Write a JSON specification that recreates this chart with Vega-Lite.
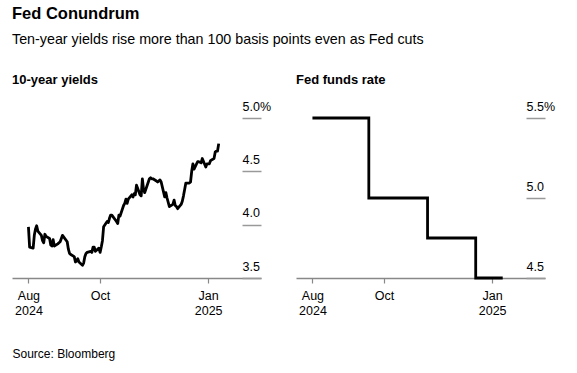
{
  "$schema": "https://vega.github.io/schema/vega-lite/v6.json",
  "padding": {"left": 12, "top": 6, "right": 10, "bottom": 5},
  "autosize": {"type": "pad"},
  "background": "white",
  "bounds": "flush",
  "spacing": 35,
  "title": {
    "text": "Fed Conundrum",
    "subtitle": "Ten-year yields rise more than 100 basis points even as Fed cuts",
    "anchor": "start",
    "font": "Liberation Sans",
    "fontSize": 16.5,
    "fontWeight": "bold",
    "color": "#000",
    "subtitleFont": "Liberation Sans",
    "subtitleFontSize": 14.3,
    "subtitleColor": "#000",
    "subtitlePadding": 10,
    "offset": 27
  },
  "config": {
    "font": "Liberation Sans",
    "view": {"stroke": null},
    "axis": {
      "labelFont": "Liberation Sans",
      "labelColor": "#000",
      "labelFontSize": 12.5,
      "grid": false
    }
  },
  "hconcat": [
    {
      "width": 249,
      "height": 160,
      "title": {"text": "10-year yields", "anchor": "start", "fontSize": 13, "fontWeight": "bold", "color": "#000", "baseline": "alphabetic", "offset": 3},
      "data": {"values": [
        {"d": "2024-08-01", "v": 3.98}, {"d": "2024-08-02", "v": 3.79}, {"d": "2024-08-05", "v": 3.78}, {"d": "2024-08-06", "v": 3.90},
        {"d": "2024-08-07", "v": 3.96}, {"d": "2024-08-08", "v": 3.99}, {"d": "2024-08-09", "v": 3.94}, {"d": "2024-08-12", "v": 3.90},
        {"d": "2024-08-13", "v": 3.85}, {"d": "2024-08-14", "v": 3.83}, {"d": "2024-08-15", "v": 3.91}, {"d": "2024-08-16", "v": 3.89},
        {"d": "2024-08-19", "v": 3.87}, {"d": "2024-08-20", "v": 3.81}, {"d": "2024-08-21", "v": 3.80}, {"d": "2024-08-22", "v": 3.86},
        {"d": "2024-08-23", "v": 3.80}, {"d": "2024-08-26", "v": 3.82}, {"d": "2024-08-27", "v": 3.83}, {"d": "2024-08-28", "v": 3.84},
        {"d": "2024-08-29", "v": 3.87}, {"d": "2024-08-30", "v": 3.90}, {"d": "2024-09-03", "v": 3.84}, {"d": "2024-09-04", "v": 3.77},
        {"d": "2024-09-05", "v": 3.73}, {"d": "2024-09-06", "v": 3.72}, {"d": "2024-09-09", "v": 3.70}, {"d": "2024-09-10", "v": 3.65},
        {"d": "2024-09-11", "v": 3.66}, {"d": "2024-09-12", "v": 3.68}, {"d": "2024-09-13", "v": 3.65}, {"d": "2024-09-16", "v": 3.62},
        {"d": "2024-09-17", "v": 3.64}, {"d": "2024-09-18", "v": 3.70}, {"d": "2024-09-19", "v": 3.73}, {"d": "2024-09-20", "v": 3.74},
        {"d": "2024-09-23", "v": 3.75}, {"d": "2024-09-24", "v": 3.74}, {"d": "2024-09-25", "v": 3.79}, {"d": "2024-09-26", "v": 3.79},
        {"d": "2024-09-27", "v": 3.75}, {"d": "2024-09-30", "v": 3.78}, {"d": "2024-10-01", "v": 3.74}, {"d": "2024-10-02", "v": 3.79},
        {"d": "2024-10-03", "v": 3.85}, {"d": "2024-10-04", "v": 3.98}, {"d": "2024-10-07", "v": 4.03}, {"d": "2024-10-08", "v": 4.02},
        {"d": "2024-10-09", "v": 4.06}, {"d": "2024-10-10", "v": 4.09}, {"d": "2024-10-11", "v": 4.09}, {"d": "2024-10-15", "v": 4.03},
        {"d": "2024-10-16", "v": 4.01}, {"d": "2024-10-17", "v": 4.09}, {"d": "2024-10-18", "v": 4.08}, {"d": "2024-10-21", "v": 4.18},
        {"d": "2024-10-22", "v": 4.20}, {"d": "2024-10-23", "v": 4.24}, {"d": "2024-10-24", "v": 4.20}, {"d": "2024-10-25", "v": 4.24},
        {"d": "2024-10-28", "v": 4.28}, {"d": "2024-10-29", "v": 4.26}, {"d": "2024-10-30", "v": 4.29}, {"d": "2024-10-31", "v": 4.28},
        {"d": "2024-11-01", "v": 4.37}, {"d": "2024-11-04", "v": 4.28}, {"d": "2024-11-05", "v": 4.27}, {"d": "2024-11-06", "v": 4.43},
        {"d": "2024-11-07", "v": 4.33}, {"d": "2024-11-08", "v": 4.30}, {"d": "2024-11-12", "v": 4.43}, {"d": "2024-11-13", "v": 4.44},
        {"d": "2024-11-14", "v": 4.43}, {"d": "2024-11-15", "v": 4.43}, {"d": "2024-11-18", "v": 4.41}, {"d": "2024-11-19", "v": 4.40},
        {"d": "2024-11-20", "v": 4.41}, {"d": "2024-11-21", "v": 4.42}, {"d": "2024-11-22", "v": 4.40}, {"d": "2024-11-25", "v": 4.26},
        {"d": "2024-11-26", "v": 4.30}, {"d": "2024-11-27", "v": 4.25}, {"d": "2024-11-29", "v": 4.17}, {"d": "2024-12-02", "v": 4.19},
        {"d": "2024-12-03", "v": 4.23}, {"d": "2024-12-04", "v": 4.18}, {"d": "2024-12-05", "v": 4.17}, {"d": "2024-12-06", "v": 4.15},
        {"d": "2024-12-09", "v": 4.19}, {"d": "2024-12-10", "v": 4.22}, {"d": "2024-12-11", "v": 4.27}, {"d": "2024-12-12", "v": 4.33},
        {"d": "2024-12-13", "v": 4.39}, {"d": "2024-12-16", "v": 4.39}, {"d": "2024-12-17", "v": 4.40}, {"d": "2024-12-18", "v": 4.50},
        {"d": "2024-12-19", "v": 4.57}, {"d": "2024-12-20", "v": 4.52}, {"d": "2024-12-23", "v": 4.59}, {"d": "2024-12-24", "v": 4.59},
        {"d": "2024-12-26", "v": 4.58}, {"d": "2024-12-27", "v": 4.62}, {"d": "2024-12-30", "v": 4.54}, {"d": "2024-12-31", "v": 4.57},
        {"d": "2025-01-02", "v": 4.57}, {"d": "2025-01-03", "v": 4.60}, {"d": "2025-01-06", "v": 4.62}, {"d": "2025-01-07", "v": 4.68},
        {"d": "2025-01-08", "v": 4.69}, {"d": "2025-01-09", "v": 4.69}, {"d": "2025-01-10", "v": 4.76}
      ]},
      "mark": {"type": "line", "color": "#000", "strokeWidth": 2.8, "strokeJoin": "round", "clip": false},
      "encoding": {
        "x": {
          "field": "d", "type": "temporal",
          "scale": {"type": "utc", "domain": [{"year": 2024, "month": 7, "date": 18, "utc": true}, {"year": 2025, "month": 2, "date": 15, "utc": true}]},
          "axis": {
            "values": [{"year": 2024, "month": 8, "date": 1, "utc": true}, {"year": 2024, "month": 10, "date": 1, "utc": true}, {"year": 2025, "month": 1, "date": 1, "utc": true}],
            "labelExpr": "utcmonth(datum.value) == 9 ? utcFormat(datum.value, '%b') : [utcFormat(datum.value, '%b'), utcFormat(datum.value, '%Y')]",
            "domainColor": "#888", "domainWidth": 1.5, "tickColor": "#888", "tickWidth": 1.2, "tickSize": 5,
            "labelPadding": 6, "labelLineHeight": 15, "labelFlush": false,
            "title": "Source: Bloomberg", "titleX": 0, "titleY": 79, "titleAlign": "left", "titleAnchor": "start",
            "titleBaseline": "alphabetic", "titleFontWeight": "normal", "titleFontSize": 12, "titleColor": "#000"
          }
        },
        "y": {
          "field": "v", "type": "quantitative",
          "scale": {"domain": [3.5, 5.0], "nice": false, "zero": false},
          "axis": {
            "orient": "right", "values": [3.5, 4.0, 4.5, 5.0],
            "labelExpr": "datum.value == 5 ? '5.0%' : format(datum.value, '.1f')",
            "domain": false, "tickSize": -19, "tickColor": "#999", "tickWidth": 1.5,
            "labelAlign": "left", "labelBaseline": "alphabetic", "labelOffset": -8, "labelPadding": 0,
            "title": null
          }
        }
      }
    },
    {
      "width": 249,
      "height": 160,
      "title": {"text": "Fed funds rate", "anchor": "start", "fontSize": 13, "fontWeight": "bold", "color": "#000", "baseline": "alphabetic", "offset": 3},
      "data": {"values": [
        {"d": "2024-08-01", "r": 5.5},
        {"d": "2024-09-18", "r": 5.0},
        {"d": "2024-11-07", "r": 4.75},
        {"d": "2024-12-18", "r": 4.5},
        {"d": "2025-01-10", "r": 4.5}
      ]},
      "mark": {"type": "line", "color": "#000", "strokeWidth": 2.8, "interpolate": "step-after", "clip": false},
      "encoding": {
        "x": {
          "field": "d", "type": "temporal",
          "scale": {"type": "utc", "domain": [{"year": 2024, "month": 7, "date": 18, "utc": true}, {"year": 2025, "month": 2, "date": 15, "utc": true}]},
          "axis": {
            "values": [{"year": 2024, "month": 8, "date": 1, "utc": true}, {"year": 2024, "month": 10, "date": 1, "utc": true}, {"year": 2025, "month": 1, "date": 1, "utc": true}],
            "labelExpr": "utcmonth(datum.value) == 9 ? utcFormat(datum.value, '%b') : [utcFormat(datum.value, '%b'), utcFormat(datum.value, '%Y')]",
            "domainColor": "#888", "domainWidth": 1.5, "tickColor": "#888", "tickWidth": 1.2, "tickSize": 5,
            "labelPadding": 6, "labelLineHeight": 15, "labelFlush": false,
            "title": null
          }
        },
        "y": {
          "field": "r", "type": "quantitative",
          "scale": {"domain": [4.5, 5.5], "nice": false, "zero": false},
          "axis": {
            "orient": "right", "values": [4.5, 5.0, 5.5],
            "labelExpr": "datum.value == 5.5 ? '5.5%' : format(datum.value, '.1f')",
            "domain": false, "tickSize": -19, "tickColor": "#999", "tickWidth": 1.5,
            "labelAlign": "left", "labelBaseline": "alphabetic", "labelOffset": -8, "labelPadding": 0,
            "title": null
          }
        }
      }
    }
  ]
}
